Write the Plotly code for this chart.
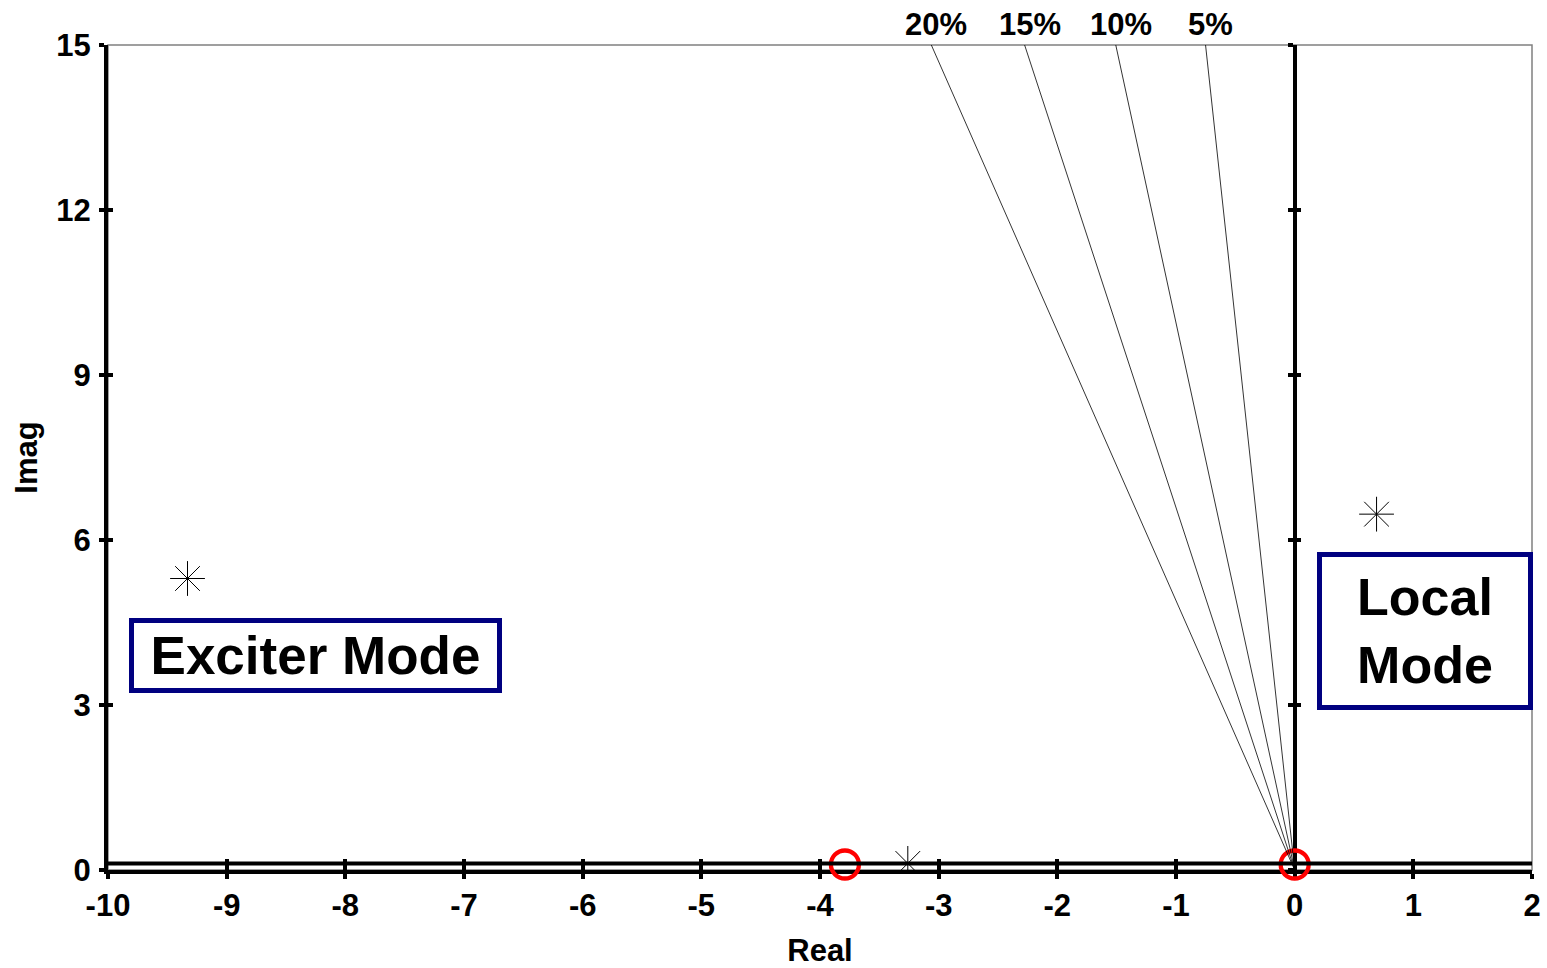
import numpy as np
import plotly.graph_objects as go

# Damping-ratio guide lines (fraction of critical damping) and their labels
damping_ratios = [0.20, 0.15, 0.10, 0.05]
damping_labels = ["20%", "15%", "10%", "5%"]
imag_top = 15

# Eigenvalues (poles) of the system
pole_real = [-9.33, 0.69, -3.26]
pole_imag = [5.30, 6.47, 0.12]

# Zeros
zero_real = [-3.79, 0.0]
zero_imag = [0.10, 0.10]

# Thick reference line just above the real axis
ref_real = [-10, 2]
ref_imag = [0.12, 0.12]

# Axis ticks
x_ticks = list(range(-10, 3))
x_tick_labels = [str(v) for v in x_ticks]
y_ticks = [0, 3, 6, 9, 12, 15]
y_tick_labels = [str(v) for v in y_ticks]

FONT = "Liberation Sans, Arial, sans-serif"

fig = go.Figure()

# damping lines from the origin up to the top of the imaginary range
# (drawn on y3, the overlaid axis that carries the vertical line through 0)
for z in damping_ratios:
    x_end = -imag_top * z / np.sqrt(1 - z * z)
    fig.add_trace(go.Scatter(
        x=[0, x_end], y=[0, imag_top], mode="lines", xaxis="x", yaxis="y3",
        line=dict(color="black", width=0.8), showlegend=False, hoverinfo="skip"))

fig.add_trace(go.Scatter(
    x=pole_real, y=pole_imag, mode="markers", xaxis="x2", yaxis="y2",
    marker=dict(symbol="asterisk-open", size=29, color="black",
                line=dict(color="black", width=1)),
    showlegend=False))

fig.add_trace(go.Scatter(
    x=ref_real, y=ref_imag, mode="lines", xaxis="x", yaxis="y4",
    line=dict(color="black", width=4), showlegend=False, hoverinfo="skip"))

fig.add_trace(go.Scatter(
    x=zero_real, y=zero_imag, mode="markers", cliponaxis=False,
    xaxis="x", yaxis="y",
    marker=dict(symbol="circle-open", size=28, color="red",
                line=dict(color="red", width=4.3)),
    showlegend=False))

tickfont = dict(family=FONT, size=31, color="black", weight="bold")

axis_common = dict(showgrid=False, tickcolor="black", tickwidth=4, linecolor="black",
                   linewidth=4)

fig.update_layout(
    width=1547, height=968,
    margin=dict(l=108, r=15, t=45, b=98),
    paper_bgcolor="white", plot_bgcolor="white",
    font=dict(family=FONT, color="black"),
    xaxis=dict(
        range=[-10, 2], tickvals=x_ticks, ticktext=x_tick_labels,
        ticks="outside", ticklen=5,
        showline=True, zeroline=False, tickfont=tickfont, layer="below traces",
        ticklabelstandoff=0,
        title=dict(text="Real", font=dict(family=FONT, size=31, weight="bold"),
                   standoff=18),
        automargin=False, **axis_common),
    xaxis2=dict(
        range=[-10, 2], tickvals=x_ticks, ticks="inside", ticklen=11,
        overlaying="x", anchor="y", showline=False, zeroline=False,
        showticklabels=False, layer="below traces", **axis_common),
    yaxis=dict(
        range=[0, 15], tickvals=y_ticks, ticktext=y_tick_labels,
        ticks="outside", ticklen=5,
        showline=True, zeroline=False, tickfont=tickfont, layer="below traces",
        ticklabelstandoff=2,
        title=dict(text="Imag", font=dict(family=FONT, size=31, weight="bold"),
                   standoff=10),
        automargin=False, **axis_common),
    yaxis2=dict(
        range=[0, 15], tickvals=y_ticks, ticks="inside", ticklen=5,
        overlaying="y", anchor="x", showline=False, zeroline=False,
        showticklabels=False, layer="below traces", **axis_common),
    # vertical line through the origin with its own tick marks
    yaxis3=dict(
        range=[0, 15], tickvals=y_ticks, ticks="outside", ticklen=5,
        overlaying="y", anchor="free", position=10 / 12, showline=True,
        zeroline=False, showticklabels=False, layer="below traces", **axis_common),
    yaxis4=dict(
        range=[0, 15], tickvals=y_ticks, ticks="inside", ticklen=5,
        overlaying="y", anchor="free", position=10 / 12, showline=False,
        zeroline=False, showticklabels=False, layer="below traces", **axis_common),
    shapes=[dict(type="rect", xref="paper", yref="paper", x0=0, y0=0, x1=1, y1=1,
                 line=dict(color="#808080", width=1.5), layer="below")],
)

annotations = []
for z, lab in zip(damping_ratios, damping_labels):
    x_end = -imag_top * z / np.sqrt(1 - z * z)
    annotations.append(dict(
        x=x_end, y=imag_top, xref="x", yref="y", text=lab, showarrow=False,
        xanchor="center", yanchor="bottom", xshift=5, yshift=1,
        font=dict(family=FONT, size=31, color="black", weight="bold")))

annotations.append(dict(
    x=-8.254, y=3.9, xref="x", yref="y", text="Exciter Mode", showarrow=False,
    xanchor="center", yanchor="middle", width=363, height=65,
    bordercolor="#000080", borderwidth=5, borderpad=0, bgcolor="white",
    font=dict(family=FONT, size=53, color="black", weight="bold")))

annotations.append(dict(
    x=1.095, y=4.35, xref="x", yref="y", text="Local<br>Mode", showarrow=False,
    xanchor="center", yanchor="middle", width=206, height=148,
    bordercolor="#000080", borderwidth=5, borderpad=0, bgcolor="white",
    font=dict(family=FONT, size=52, color="black", weight="bold")))

fig.update_layout(annotations=annotations)

fig.write_html("out.html")
